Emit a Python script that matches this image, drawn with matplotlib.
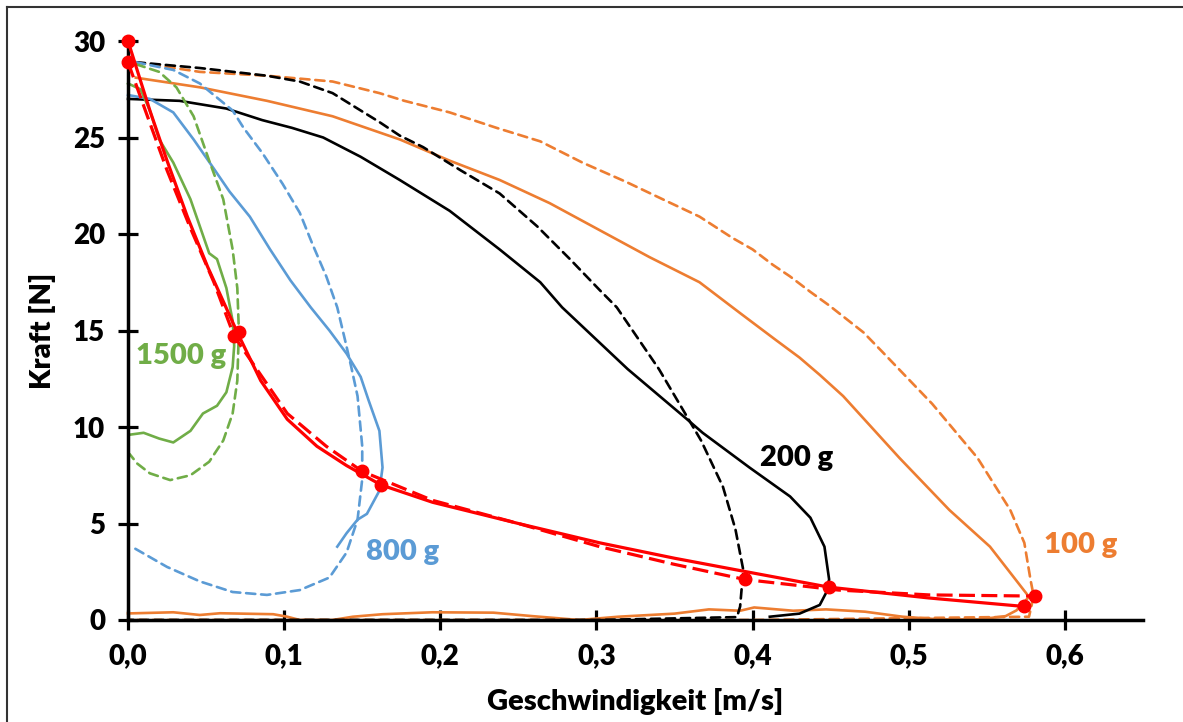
import matplotlib.pyplot as plt
from matplotlib.lines import Line2D

plt.rcParams['font.family'] = ['Lato', 'DejaVu Sans']
plt.rcParams['font.weight'] = 'bold'

# Farben wie im Excel-Diagramm
c_orange = '#ED7D31'
c_blue = '#5B9BD5'
c_green = '#70AD47'
c_black = '#000000'
c_red = '#FF0000'

# 100 g: Messung (durchgezogen), Simulation (gestrichelt)
v_100 = [0.005, 0.046, 0.089, 0.131, 0.174, 0.206, 0.238, 0.270, 0.302, 0.334, 0.366, 0.392,
         0.415, 0.430, 0.443, 0.458, 0.494, 0.526, 0.552, 0.577, 0.573, 0.569, 0.562, 0.545,
         0.520, 0.496, 0.472, 0.447, 0.426, 0.401, 0.392, 0.372, 0.350, 0.314, 0.289, 0.259,
         0.234, 0.195, 0.163, 0.144, 0.131, 0.110, 0.102, 0.093, 0.059, 0.046, 0.029, 0.0]
F_100 = [28.1, 27.6, 26.9, 26.1, 24.9, 23.8, 22.8, 21.6, 20.2, 18.8, 17.5, 15.9,
         14.5, 13.6, 12.7, 11.6, 8.4, 5.7, 3.8, 1.2, 0.85, 0.5, 0.2, 0.03,
         0.03, 0.17, 0.43, 0.55, 0.48, 0.65, 0.48, 0.55, 0.33, 0.17, 0.0, 0.2,
         0.38, 0.4, 0.3, 0.17, 0.0, 0.0, 0.17, 0.3, 0.35, 0.26, 0.4, 0.34]
v_100_sim = [0.005, 0.046, 0.089, 0.131, 0.161, 0.177, 0.206, 0.236, 0.264, 0.291, 0.319,
             0.345, 0.366, 0.387, 0.400, 0.413, 0.424, 0.437, 0.449, 0.460, 0.471, 0.483,
             0.515, 0.544, 0.565, 0.574, 0.578, 0.580, 0.577, 0.4, 0.2, 0.0]
F_100_sim = [28.9, 28.4, 28.2, 27.9, 27.3, 26.9, 26.3, 25.5, 24.8, 23.7, 22.7,
             21.7, 20.9, 19.8, 19.2, 18.4, 17.8, 17.0, 16.3, 15.6, 14.9, 13.9,
             11.2, 8.4, 5.7, 4.0, 2.07, 1.24, 0.17, 0.0, 0.0, 0.0]

# 200 g
v_200 = [0.0, 0.033, 0.063, 0.086, 0.105, 0.125, 0.149, 0.174, 0.206, 0.238, 0.264, 0.278,
         0.32, 0.358, 0.368, 0.398, 0.424, 0.437, 0.446, 0.449, 0.447, 0.443, 0.430, 0.411]
F_200 = [27.0, 26.9, 26.5, 25.9, 25.5, 25.0, 24.0, 22.8, 21.2, 19.2, 17.5, 16.2,
         13.0, 10.4, 9.7, 7.9, 6.4, 5.3, 3.8, 2.1, 1.4, 0.78, 0.33, 0.17]
v_200_sim = [0.005, 0.046, 0.089, 0.110, 0.131, 0.161, 0.174, 0.189, 0.213, 0.238, 0.262,
             0.283, 0.302, 0.313, 0.34, 0.367, 0.381, 0.389, 0.394, 0.392, 0.39, 0.3, 0.0]
F_200_sim = [28.9, 28.6, 28.2, 27.9, 27.3, 25.8, 25.1, 24.5, 23.3, 22.1, 20.4,
             18.7, 17.1, 16.2, 13.0, 9.3, 6.9, 4.7, 2.6, 0.7, 0.15, 0.0, 0.0]

# 800 g
v_800 = [0.0, 0.014, 0.029, 0.042, 0.054, 0.065, 0.078, 0.091, 0.104, 0.117, 0.129, 0.140,
         0.149, 0.154, 0.161, 0.163, 0.161, 0.153, 0.147, 0.140, 0.134]
F_800 = [27.2, 27.0, 26.3, 24.9, 23.5, 22.2, 20.9, 19.2, 17.6, 16.2, 15.0, 13.8,
         12.6, 11.4, 9.8, 7.9, 6.7, 5.5, 5.2, 4.5, 3.8]
v_800_sim = [0.005, 0.029, 0.046, 0.067, 0.074, 0.086, 0.099, 0.110, 0.118, 0.127, 0.134,
             0.139, 0.143, 0.147, 0.150, 0.150, 0.147, 0.140, 0.129, 0.110, 0.089, 0.067,
             0.046, 0.025, 0.0045]
F_800_sim = [28.9, 28.5, 27.8, 26.4, 25.5, 24.2, 22.6, 21.1, 19.5, 17.8, 16.2,
             14.5, 13.1, 11.6, 9.0, 7.3, 5.2, 3.5, 2.2, 1.55, 1.3, 1.45,
             2.0, 2.75, 3.7]

# 1500 g
v_1500 = [0.0, 0.008, 0.014, 0.020, 0.029, 0.040, 0.052, 0.057, 0.063, 0.067, 0.068, 0.067,
          0.063, 0.057, 0.048, 0.040, 0.029, 0.020, 0.010, 0.001]
F_1500 = [27.8, 27.5, 26.4, 24.9, 23.7, 21.8, 19.0, 18.7, 17.2, 15.5, 14.2, 13.1,
          11.8, 11.1, 10.7, 9.8, 9.2, 9.4, 9.7, 9.6]
v_1500_sim = [0.005, 0.02, 0.031, 0.042, 0.052, 0.061, 0.067, 0.070, 0.071, 0.070, 0.067,
              0.061, 0.052, 0.040, 0.027, 0.014, 0.006, 0.001]
F_1500_sim = [28.8, 28.4, 27.6, 26.1, 23.8, 21.8, 19.2, 17.2, 15.0, 12.4, 10.7,
              9.3, 8.2, 7.5, 7.25, 7.6, 8.1, 8.6]

# Hüllkurven (rot)
v_env = [0.0, 0.014, 0.025, 0.038, 0.051, 0.070, 0.085, 0.102, 0.121, 0.140, 0.162, 0.195,
         0.25, 0.302, 0.35, 0.396, 0.449, 0.513, 0.574]
F_env = [30.0, 26.4, 23.8, 20.9, 18.3, 14.9, 12.4, 10.4, 9.0, 8.0, 7.0, 6.1,
         5.0, 4.0, 3.2, 2.5, 1.7, 1.14, 0.7]
v_env_sim = [0.0, 0.012, 0.025, 0.04, 0.055, 0.068, 0.085, 0.102, 0.127, 0.150, 0.195, 0.25,
             0.302, 0.349, 0.395, 0.455, 0.513, 0.581]
F_env_sim = [28.9, 26.2, 23.3, 20.3, 17.5, 14.7, 12.7, 10.7, 9.0, 7.7, 6.2, 5.0,
             3.8, 2.9, 2.1, 1.55, 1.3, 1.24]
v_pts = [0.0, 0.071, 0.162, 0.449, 0.574]
F_pts = [30.0, 14.9, 7.0, 1.7, 0.7]
v_pts_sim = [0.0, 0.068, 0.150, 0.395, 0.581]
F_pts_sim = [28.9, 14.7, 7.7, 2.1, 1.24]

labels = ['100 g', '200 g', '800 g', '1500 g']
label_colors = [c_orange, c_black, c_blue, c_green]
label_pos = [(0.61, 3.9), (0.428, 8.4), (0.176, 3.5), (0.034, 13.7)]

fig = plt.figure(figsize=(11.83, 7.22), dpi=100)
ax = fig.add_axes([128 / 1183, 102 / 722, 1015 / 1183, 579 / 722])

dash = (0, (3.5, 2.2))
lw = 1.9
curves = [
    (v_100, F_100, c_orange, '-'), (v_100_sim, F_100_sim, c_orange, dash),
    (v_200, F_200, c_black, '-'), (v_200_sim, F_200_sim, c_black, dash),
    (v_800, F_800, c_blue, '-'), (v_800_sim, F_800_sim, c_blue, dash),
    (v_1500, F_1500, c_green, '-'), (v_1500_sim, F_1500_sim, c_green, dash),
]
for v, F, c, ls in curves:
    ax.plot(v, F, color=c, ls=ls, lw=lw, clip_on=False, zorder=2,
            solid_joinstyle='round', dash_capstyle='round')

ax.plot(v_env, F_env, color=c_red, lw=2.3, clip_on=False, zorder=3, solid_joinstyle='round')
ax.plot(v_env_sim, F_env_sim, color=c_red, lw=2.3, ls=(0, (5, 2)), clip_on=False, zorder=3)
ax.plot(v_pts, F_pts, 'o', color=c_red, ms=9, clip_on=False, zorder=5)
ax.plot(v_pts_sim, F_pts_sim, 'o', color=c_red, ms=9, clip_on=False, zorder=5)

for txt, c, (x, y) in zip(labels, label_colors, label_pos):
    ax.text(x, y, txt, color=c, fontsize=21, fontweight='heavy', ha='center', va='center')

ax.set_xlim(0, 0.65)
ax.set_ylim(0, 30)
ax.set_xticks([0, 0.1, 0.2, 0.3, 0.4, 0.5, 0.6])
ax.set_xticklabels(['0,0', '0,1', '0,2', '0,3', '0,4', '0,5', '0,6'])
ax.set_yticks([0, 5, 10, 15, 20, 25, 30])
ax.tick_params(direction='inout', length=15, width=2.3, labelsize=20, pad=9)
for lab in ax.get_xticklabels() + ax.get_yticklabels():
    lab.set_fontweight('heavy')

for s in ['top', 'right']:
    ax.spines[s].set_visible(False)
for s in ['left', 'bottom']:
    ax.spines[s].set_linewidth(2.5)

ax.set_xlabel('Geschwindigkeit [m/s]', fontsize=21, fontweight='heavy', labelpad=14)
ax.set_ylabel('Kraft [N]', fontsize=21, fontweight='heavy', labelpad=12)

# Rahmen oben/links
fig.add_artist(Line2D([7 / 1183, 7 / 1183], [0, 715 / 722], color='#333333', lw=1.5))
fig.add_artist(Line2D([7 / 1183, 1], [715 / 722, 715 / 722], color='#333333', lw=1.5))

fig.savefig('out.png', dpi=100)
